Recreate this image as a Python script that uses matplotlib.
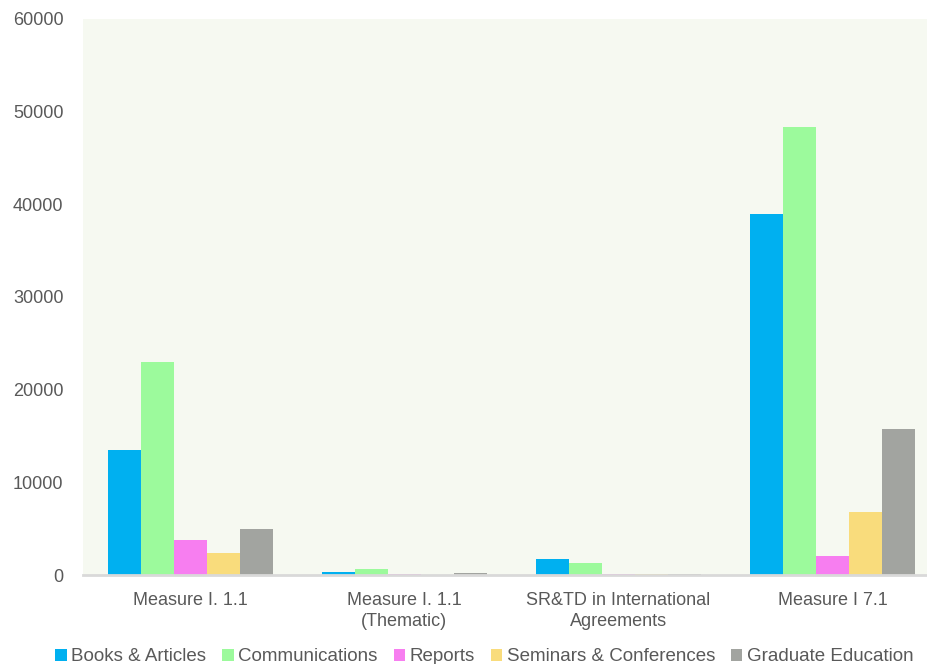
import matplotlib.pyplot as plt
import numpy as np

plt.rcParams['font.family'] = ['Liberation Sans', 'DejaVu Sans']

categories = ["Measure I. 1.1", "Measure I. 1.1\n(Thematic)",
              "SR&TD in International\nAgreements", "Measure I 7.1"]
series_names = ["Books & Articles", "Communications", "Reports",
                "Seminars & Conferences", "Graduate Education"]
books = [13500, 300, 1750, 39000]
communications = [23000, 700, 1250, 48300]
reports = [3750, 80, 60, 2000]
seminars = [2400, 50, 90, 6800]
graduate = [4950, 200, 60, 15800]
colors = ["#00b0f0", "#9cfa9c", "#f77ef0", "#f9dc7c", "#a2a4a0"]

values = [books, communications, reports, seminars, graduate]

fig = plt.figure(figsize=(9.28, 6.64), dpi=100)
ax = fig.add_axes([83/928, 1 - 575/664, 845/928, 556/664])
ax.set_facecolor("#f6f9f1")

x = np.arange(len(categories))
width = 0.154
for i, (name, vals, c) in enumerate(zip(series_names, values, colors)):
    ax.bar(x + (i - 2) * width, vals, width, color=c, label=name)

ax.set_xlim(-0.5, 3.444)
ax.set_ylim(0, 60000)
ax.set_yticks(np.arange(0, 60001, 10000))
ax.set_xticks(x)
ax.set_xticklabels(categories, linespacing=1.35)
for s in ["top", "right", "left"]:
    ax.spines[s].set_visible(False)
ax.spines["bottom"].set_color("#d9d9d9")
ax.spines["bottom"].set_linewidth(2)
ax.tick_params(axis="both", length=0, labelsize=13, colors="#595959")
ax.tick_params(axis="y", pad=14)
ax.tick_params(axis="x", pad=12)

fig.legend(loc="center", bbox_to_anchor=(0.522, 0.011), ncol=5, frameon=False,
           handlelength=0.6, handleheight=0.6, handletextpad=0.25, columnspacing=0.85,
           fontsize=13.5, labelcolor="#595959")

fig.savefig("out.png", dpi=100)
